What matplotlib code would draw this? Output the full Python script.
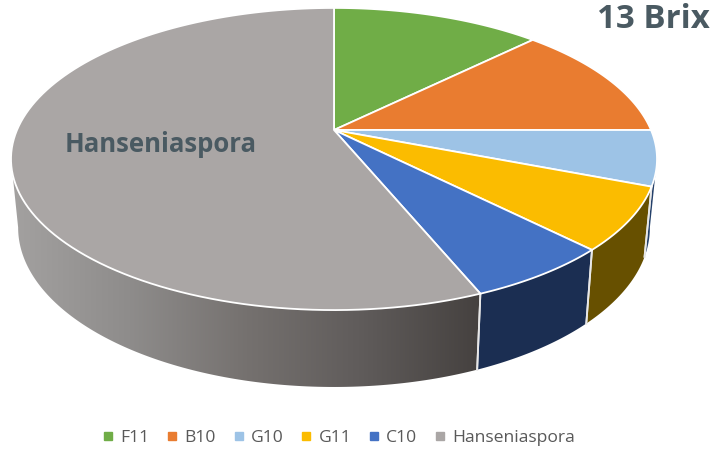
import numpy as np
from matplotlib import pyplot as plt
from matplotlib.lines import Line2D
from matplotlib.patches import Polygon
from matplotlib.colors import LinearSegmentedColormap

labels = ['F11', 'B10', 'G10', 'G11', 'C10', 'Hanseniaspora']
values = [12.6, 12.4, 5.9, 6.7, 6.2, 56.2]
colors = ['#70ad47', '#e97c30', '#9dc3e6', '#fbbc00', '#4472c4', '#aaa6a5']
side_colors = ['#3f6428', '#8a4a1c', '#24406a', '#675000', '#1b2e52', None]
gray_stops = ['#a3a1a0', '#8e8c8b', '#75716f', '#5f5b5a', '#45413f']

plt.rcParams['font.family'] = ['Open Sans', 'DejaVu Sans']

fig = plt.figure(figsize=(7.15, 4.51), dpi=100)
ax = fig.add_axes([0, 0, 1, 1])
ax.set_xlim(0, 715)
ax.set_ylim(451, 0)
ax.axis('off')


def project(theta, cy, a, b):
    # circle seen in perspective, the apex is not at the middle of the ellipse
    u, v = np.sin(theta), np.cos(theta)
    w = 1 + 0.192 * v
    return np.column_stack([334 + a * u / w, cy - b * v / w])


def top_edge(theta):
    return project(theta, 130, 317, 145.5)


def bottom_edge(theta):
    return project(theta, 197, 310, 153.5)


edges = np.cumsum([0] + values) / sum(values) * 2 * np.pi
# only this part of the rim faces the viewer
front_start, front_end = np.radians(101), np.radians(259)

# sides first, the top covers the part at the back
for i in range(len(values)):
    start = max(edges[i], front_start)
    end = min(edges[i + 1], front_end)
    if start >= end:
        continue
    t = np.linspace(start, end, 120)
    outline = np.vstack([top_edge(t), bottom_edge(t[::-1])])
    if side_colors[i] is None:
        poly = Polygon(outline, closed=True, fc='none', ec='none')
        ax.add_patch(poly)
        cmap = LinearSegmentedColormap.from_list('side', gray_stops)
        im = ax.imshow(np.linspace(0, 1, 256)[None, :], cmap=cmap, aspect='auto',
                       extent=(12, 482, 451, 0), zorder=1)
        im.set_clip_path(poly)
        ax.set_xlim(0, 715)
        ax.set_ylim(451, 0)
    else:
        ax.add_patch(Polygon(outline, closed=True, fc=side_colors[i], ec='none', zorder=1))
    # white seam at the slice border
    for e in (edges[i], edges[i + 1]):
        if front_start < e < front_end:
            seam = np.vstack([top_edge(np.array([e])), bottom_edge(np.array([e]))])
            ax.plot(seam[:, 0], seam[:, 1], color='#e8e8e8', lw=1.3, zorder=2)

for i in range(len(values)):
    t = np.linspace(edges[i], edges[i + 1], 120)
    outline = np.vstack([[334, 130], top_edge(t)])
    ax.add_patch(Polygon(outline, closed=True, fc=colors[i], ec='white', lw=1.3,
                         joinstyle='round', zorder=3))

ax.text(65, 144, 'Hanseniaspora', color='#4a5a62', fontsize=18.5, fontweight='bold',
        va='center', ha='left', zorder=4)
ax.text(710, 20, '13 Brix', color='#4a5a62', fontsize=23.8, fontweight='bold',
        va='center', ha='right', zorder=4)

handles = [Line2D([], [], ls='none', marker='s', ms=5.5, color=c) for c in colors]
ax.legend(handles, labels, loc='center', bbox_to_anchor=(339 / 715, 1 - 438 / 451),
          ncol=6, frameon=False, fontsize=12.6, labelcolor='#595959', handlelength=0.6,
          handletextpad=0.4, columnspacing=1.0, borderpad=0)

fig.savefig('out.png', dpi=100)
